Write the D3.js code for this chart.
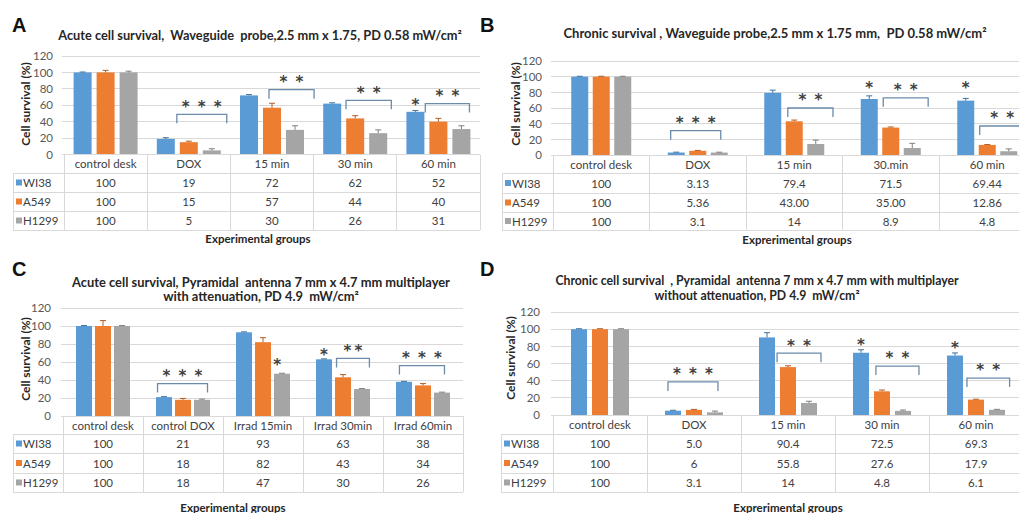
<!DOCTYPE html>
<html><head><meta charset="utf-8">
<script src="https://cdn.jsdelivr.net/npm/d3@7"></script>
<style>body{margin:0;background:#fff}svg{display:block}</style>
</head><body><svg id="c" width="1019" height="513"></svg>
<script>
// ---------- shared ----------
const seriesNames = ["WI38", "A549", "H1299"];
const seriesColors = ["#5b9bd5", "#ed7d31", "#a5a5a5"];
const errColors = ["#41719c", "#b55d22", "#7f7f7f"];
const yTicks = [0, 20, 40, 60, 80, 100, 120];

// ---------- Panel A ----------
const titleA = ["Acute cell survival,  Waveguide  probe,2.5 mm x 1.75, PD 0.58 mW/cm²"];
const categoriesA = ["control desk", "DOX", "15 min", "30 min", "60 min"];
const wi38A = [100, 19, 72, 62, 52];
const a549A = [100, 15, 57, 44, 40];
const h1299A = [100, 5, 30, 26, 31];
const wi38ErrA = [0.5, 1.5, 1, 1, 1.5];
const a549ErrA = [2.5, 1.2, 5.4, 3.3, 4];
const h1299ErrA = [1.5, 2, 5, 4, 4];
const wi38TextA = ["100", "19", "72", "62", "52"];
const a549TextA = ["100", "15", "57", "44", "40"];
const h1299TextA = ["100", "5", "30", "26", "31"];
// [group, from slot, to slot, value level, stars]
const bracketsA = [[1, 0.48, 2.65, 49, "* * *"], [2, 0.87, 2.83, 79, "* *"], [3, 0.6, 2.57, 66, "* *"], [4, 0.43, 2.35, 62, "* *"]];
const singleStarsA = [[4, 0, 65]];

// ---------- Panel B ----------
const titleB = ["Chronic survival , Waveguide probe,2.5 mm x 1.75 mm,  PD 0.58 mW/cm²"];
const categoriesB = ["control desk", "DOX", "15 min", "30.min", "60 min"];
const wi38B = [100, 3.13, 79.4, 71.5, 69.44];
const a549B = [100, 5.36, 43.0, 35.0, 12.86];
const h1299B = [100, 3.1, 14, 8.9, 4.8];
const wi38ErrB = [0.5, 0.5, 3.4, 4, 2.8];
const a549ErrB = [0.5, 0.5, 1.6, 0.8, 0.5];
const h1299ErrB = [0.5, 0.5, 5, 6, 3];
const wi38TextB = ["100", "3.13", "79.4", "71.5", "69.44"];
const a549TextB = ["100", "5.36", "43.00", "35.00", "12.86"];
const h1299TextB = ["100", "3.1", "14", "8.9", "4.8"];
const bracketsB = [[1, -0.26, 2.07, 31, "* * *"], [2, 0.7, 2.8, 60, "* *"], [3, 0.65, 2.74, 73, "* *"], [4, 0.65, 2.74, 37, "* *"]];
const singleStarsB = [[3, 0, 91], [4, 0, 91]];

// ---------- Panel C ----------
const titleC = ["Acute cell survival, Pyramidal  antenna 7 mm x 4.7 mm multiplayer", "with attenuation, PD 4.9  mW/cm²"];
const categoriesC = ["control desk", "control DOX", "Irrad 15min", "Irrad 30min", "Irrad 60min"];
const wi38C = [100, 21, 93, 63, 38];
const a549C = [100, 18, 82, 43, 34];
const h1299C = [100, 18, 47, 30, 26];
const wi38ErrC = [0.5, 0.5, 0.5, 0.5, 0.5];
const a549ErrC = [6, 1.5, 5, 3, 2];
const h1299ErrC = [0.5, 0.8, 0.5, 0.5, 0.5];
const wi38TextC = ["100", "21", "93", "63", "38"];
const a549TextC = ["100", "18", "82", "43", "34"];
const h1299TextC = ["100", "18", "47", "30", "26"];
const bracketsC = [[1, -0.34, 2.29, 36, "* * *"], [3, 0.66, 2.39, 64, "**"], [4, -0.24, 2.13, 56, "* * *"]];
const singleStarsC = [[2, 1.75, 61], [3, 0, 73]];

// ---------- Panel D ----------
const titleD = ["Chronic cell survival  , Pyramidal  antenna 7 mm x 4.7 mm with multiplayer", "without attenuation, PD 4.9  mW/cm²"];
const categoriesD = ["control desk", "DOX", "15 min", "30 min", "60 min"];
const wi38D = [100, 5.0, 90.4, 72.5, 69.3];
const a549D = [100, 6, 55.8, 27.6, 17.9];
const h1299D = [100, 3.1, 14, 4.8, 6.1];
const wi38ErrD = [0.5, 0.5, 5.5, 3.5, 3];
const a549ErrD = [0.5, 0.5, 1.5, 1.5, 0.5];
const h1299ErrD = [0.5, 1.5, 2, 1, 0.5];
const wi38TextD = ["100", "5.0", "90.4", "72.5", "69.3"];
const a549TextD = ["100", "6", "55.8", "27.6", "17.9"];
const h1299TextD = ["100", "3.1", "14", "4.8", "6.1"];
const bracketsD = [[1, -0.24, 2.14, 38.5, "* * *"], [2, 0.48, 2.57, 72, "* *"], [3, 0.71, 2.76, 57, "* *"], [4, 0.57, 2.6, 43, "* *"]];
const singleStarsD = [[3, 0, 87], [4, 0, 83]];

const yTitle = "Cell survival (%)";
const xTitles = ["Experimental groups", "Exprerimental groups", "Experimental groups", "Exprerimental groups"];

// ---------- layout ----------
const panels = [
  {letter: "A", lx: 12, ly: 32, title: titleA, titleY: [35], titleCX: 260, titleW: 404,
   plotL: 64, plotR: 480, y0: 154.5, y120: 56, rows: [154.5, 173, 192, 211, 230], tabL: 13, tickR: 53,
   axX: 25, axY: 104, xtX: 258, xtY: 238, bar: 18, gap: 5,
   cats: categoriesA, vals: [wi38A, a549A, h1299A], errs: [wi38ErrA, a549ErrA, h1299ErrA],
   texts: [wi38TextA, a549TextA, h1299TextA], brackets: bracketsA, singles: singleStarsA, xt: xTitles[0]},
  {letter: "B", lx: 480, ly: 32, title: titleB, titleY: [33], titleCX: 775, titleW: 436,
   plotL: 553, plotR: 1035.5, y0: 155, y120: 61, rows: [155, 173, 193, 212, 230], tabL: 502, tickR: 542,
   axX: 515, axY: 104, xtX: 797, xtY: 239, bar: 17, gap: 4.5,
   cats: categoriesB, vals: [wi38B, a549B, h1299B], errs: [wi38ErrB, a549ErrB, h1299ErrB],
   texts: [wi38TextB, a549TextB, h1299TextB], brackets: bracketsB, singles: singleStarsB, xt: xTitles[1]},
  {letter: "C", lx: 12, ly: 276, title: titleC, titleY: [282, 296], titleCX: 261, titleW: 378,
   plotL: 63, plotR: 463, y0: 416, y120: 308, rows: [416, 434, 453, 473, 492], tabL: 13, tickR: 51,
   axX: 25, axY: 359, xtX: 233, xtY: 507, bar: 16, gap: 3,
   cats: categoriesC, vals: [wi38C, a549C, h1299C], errs: [wi38ErrC, a549ErrC, h1299ErrC],
   texts: [wi38TextC, a549TextC, h1299TextC], brackets: bracketsC, singles: singleStarsC, xt: xTitles[2]},
  {letter: "D", lx: 480, ly: 276, title: titleD, titleY: [280, 295], titleCX: 757, titleW: 403,
   plotL: 553, plotR: 1023, y0: 415, y120: 312, rows: [415, 434, 453, 473, 492], tabL: 501, tickR: 540,
   axX: 510, axY: 358, xtX: 788, xtY: 507, bar: 16, gap: 5,
   cats: categoriesD, vals: [wi38D, a549D, h1299D], errs: [wi38ErrD, a549ErrD, h1299ErrD],
   texts: [wi38TextD, a549TextD, h1299TextD], brackets: bracketsD, singles: singleStarsD, xt: xTitles[3]}
];

const FONT = "Lato, 'Open Sans', sans-serif";
const svg = d3.select("#c");
svg.append("rect").attr("width", 1019).attr("height", 513).attr("fill", "#fff");

function fitSize(sel, target, base) {
  sel.attr("font-size", base);
  const w = sel.node().getComputedTextLength();
  return w > 0 ? Math.min(base * target / w, 13) : base;
}

function drawPanel(p) {
  const g = svg.append("g");
  const x0 = d3.scaleBand().domain(p.cats).range([p.plotL, p.plotR]).paddingInner(0).paddingOuter(0);
  const bw = x0.bandwidth();
  const inner = 3 * p.bar + 2 * p.gap;
  const pad = (bw - inner) / 2;
  const x1 = d3.scaleBand().domain(seriesNames).range([pad, pad + inner])
    .paddingInner(p.gap / (p.bar + p.gap)).paddingOuter(0);
  const y = d3.scaleLinear().domain([0, 120]).range([p.y0, p.y120]);
  const step = p.bar + p.gap;
  const slotX = (gi, s) => x0(p.cats[gi]) + x1(seriesNames[0]) + x1.bandwidth() / 2 + s * step;

  // letter
  g.append("text").attr("x", p.lx).attr("y", p.ly).text(p.letter)
    .attr("font-family", "'Liberation Sans', Arial, sans-serif").attr("font-weight", "bold")
    .attr("font-size", 20).attr("fill", "#111");

  // title (font size fitted on first line, same for all lines)
  const tEls = p.title.map((t, i) => g.append("text").attr("x", p.titleCX).attr("y", p.titleY[i])
    .attr("text-anchor", "middle").attr("dominant-baseline", "central").style("white-space", "pre")
    .attr("font-family", FONT).attr("font-weight", "bold").attr("fill", "#262626").text(t));
  const fs = fitSize(tEls[0], p.titleW, 11);
  tEls.forEach(t => t.attr("font-size", fs.toFixed(2)));

  // grid
  g.append("g").selectAll("line").data(yTicks).join("line")
    .attr("x1", p.plotL - 2).attr("x2", p.plotR).attr("y1", d => y(d)).attr("y2", d => y(d))
    .attr("stroke", "#d9d9d9").attr("stroke-width", 1).attr("shape-rendering", "crispEdges");

  // y axis labels
  const ax = g.append("g").attr("transform", `translate(${p.tickR},0)`)
    .call(d3.axisLeft(y).tickValues(yTicks).tickSize(0).tickPadding(0));
  ax.select(".domain").remove();
  ax.selectAll("text").attr("font-family", FONT).attr("font-size", 11.5).attr("fill", "#595959");

  // y title
  g.append("text").attr("transform", `translate(${p.axX},${p.axY}) rotate(-90)`)
    .attr("text-anchor", "middle").attr("dominant-baseline", "central")
    .attr("font-family", FONT).attr("font-weight", "bold").attr("font-size", 12)
    .attr("fill", "#262626").text(yTitle);

  // bars
  seriesNames.forEach((s, si) => {
    const data = p.cats.map((c, ci) => ({c, v: p.vals[si][ci], e: p.errs[si][ci]}));
    const sg = g.append("g");
    sg.selectAll("rect").data(data).join("rect")
      .attr("x", d => x0(d.c) + x1(s)).attr("width", x1.bandwidth())
      .attr("y", d => y(d.v)).attr("height", d => y(0) - y(d.v)).attr("fill", seriesColors[si]);
    sg.selectAll("path.err").data(data).join("path").attr("class", "err")
      .attr("d", d => {
        const cx = x0(d.c) + x1(s) + x1.bandwidth() / 2;
        return `M${cx},${y(d.v)}V${y(d.v + d.e)}M${cx - 3},${y(d.v + d.e)}H${cx + 3}`;
      })
      .attr("stroke", errColors[si]).attr("stroke-width", 1).attr("fill", "none");
  });

  // table
  const tg = g.append("g").attr("stroke", "#d9d9d9").attr("stroke-width", 1).attr("shape-rendering", "crispEdges");
  const r = p.rows;
  const bounds = p.cats.map(c => x0(c)).concat([p.plotR]);
  bounds.forEach(bx => tg.append("line").attr("x1", bx).attr("x2", bx).attr("y1", r[0]).attr("y2", r[4]));
  tg.append("line").attr("x1", p.tabL).attr("x2", p.tabL).attr("y1", r[1]).attr("y2", r[4]);
  tg.append("line").attr("x1", p.plotL).attr("x2", p.plotR).attr("y1", r[0]).attr("y2", r[0]);
  for (let k = 1; k <= 4; k++) tg.append("line").attr("x1", p.tabL).attr("x2", p.plotR).attr("y1", r[k]).attr("y2", r[k]);

  const txt = g.append("g").attr("font-family", FONT).attr("font-size", 11.5).attr("fill", "#404040");
  txt.selectAll("text.cat").data(p.cats).join("text").attr("class", "cat")
    .attr("x", d => x0(d) + bw / 2).attr("y", (r[0] + r[1]) / 2).attr("text-anchor", "middle")
    .attr("dominant-baseline", "central").text(d => d);
  seriesNames.forEach((s, si) => {
    const cy = (r[si + 1] + r[si + 2]) / 2;
    txt.append("rect").attr("x", p.tabL + 3).attr("y", cy - 3).attr("width", 6).attr("height", 6).attr("fill", seriesColors[si]);
    txt.append("text").attr("x", p.tabL + 10).attr("y", cy).attr("dominant-baseline", "central").text(s);
    txt.selectAll("text.v" + si).data(p.texts[si]).join("text").attr("class", "v" + si)
      .attr("x", (d, i) => x0(p.cats[i]) + bw / 2).attr("y", cy).attr("text-anchor", "middle")
      .attr("dominant-baseline", "central").text(d => d);
  });

  // x title
  g.append("text").attr("x", p.xtX).attr("y", p.xtY).attr("text-anchor", "middle")
    .attr("dominant-baseline", "central").attr("font-family", FONT).attr("font-weight", "bold")
    .attr("font-size", 11.5).attr("fill", "#262626").text(p.xt);

  // brackets & significance stars
  const STAR_FS = 15;
  const drawStars = (cx, cyTop, label) => {
    const n = (label.match(/\*/g) || []).length;
    const sp = label.includes(" ") ? 16 : 11;
    for (let k = 0; k < n; k++) {
      g.append("text").attr("x", cx + (k - (n - 1) / 2) * sp).attr("y", cyTop + STAR_FS * 0.62)
        .attr("text-anchor", "middle").attr("font-family", "'DejaVu Sans', sans-serif")
        .attr("font-weight", "bold").attr("font-size", STAR_FS).attr("fill", "#404040").text("*");
    }
  };
  p.brackets.forEach(([gi, s0, s1, v, label]) => {
    const xa = slotX(gi, s0), xb = slotX(gi, s1), yy = y(v);
    g.append("path").attr("d", `M${xa},${yy + 9}V${yy}H${xb}V${yy + 9}`)
      .attr("fill", "none").attr("stroke", "#6b8bab").attr("stroke-width", 1.3);
    drawStars((xa + xb) / 2, yy - 12, label);
  });
  p.singles.forEach(([gi, s, v]) => drawStars(slotX(gi, s), y(v), "*"));
}

panels.forEach(drawPanel);
</script></body></html>
